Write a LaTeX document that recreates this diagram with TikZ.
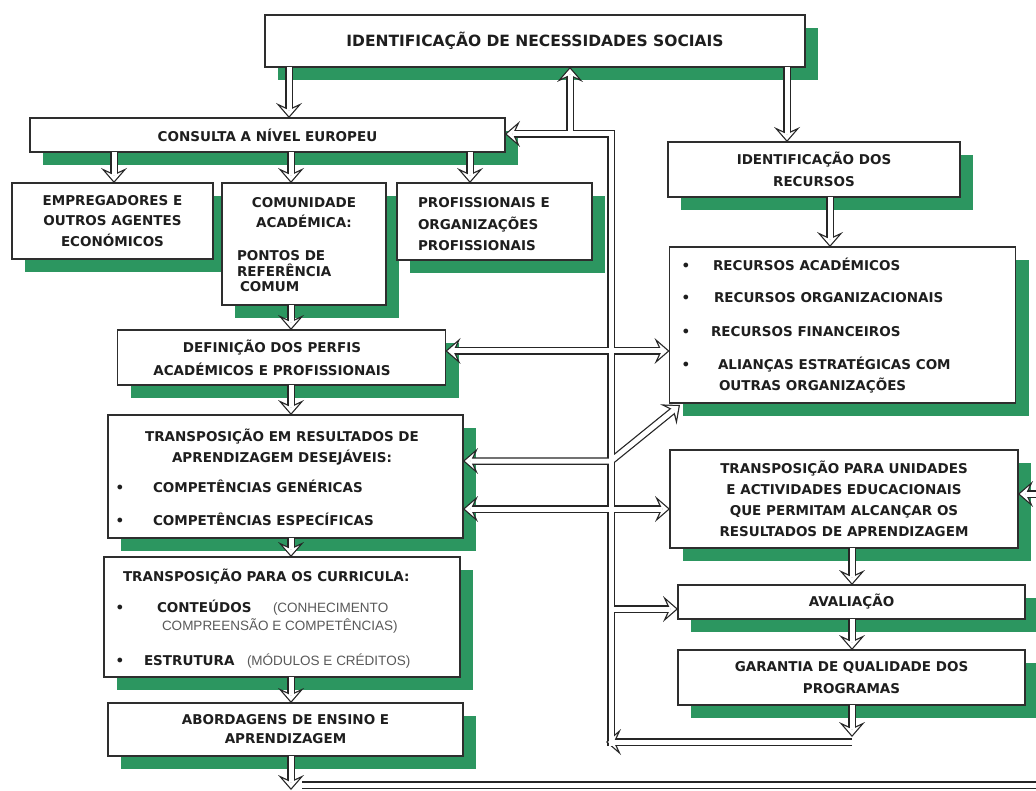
\documentclass[tikz,border=0pt]{standalone}
\usepackage{fontspec}
\setmainfont{DejaVu Sans}
\newfontfamily\thinfont{Liberation Sans}
\usetikzlibrary{arrows.meta,shadows}
\definecolor{shgreen}{RGB}{44,150,96}
\definecolor{ink}{RGB}{30,30,30}
\newcommand\diagfont{\fontsize{13.5}{21}\selectfont\bfseries}
\newcommand\diagsp[1]{\fontsize{13.5}{#1}\selectfont\bfseries}

% all hollow double-line connectors; drawn twice (outline pass, then white pass)
\newcommand\wiring{%
  \draw[->] (nec.south -| gA) -- (cons.north -| gA);
  \draw[->] (nec.south -| gB) -- (idrec.north -| gB);
  \draw[->] (cons.south -| gC) -- (emp.north -| gC);
  \draw[->] (cons.south -| gD) -- (com.north -| gD);
  \draw[->] (cons.south -| gE) -- (prof.north -| gE);
  \draw[->] (idrec.south -| gF) -- (reclist.north -| gF);
  \draw[->] (com.south -| gD) -- (def.north -| gD);
  \draw[->] (def.south -| gD) -- (tres.north -| gD);
  \draw[->] (tres.south -| gD) -- (curr.north -| gD);
  \draw[->] (curr.south -| gD) -- (abord.north -| gD);
  \draw[->] (abord.south -| gD) -- (gD |- hTip);
  \draw[->] (botStart) -- (botCorner) -- (botCorner |- hRight) -- (tuni.east |- hRight);
  \draw[->] (tuni.south -| gG) -- (aval.north -| gG);
  \draw[->] (aval.south -| gG) -- (gar.north -| gG);
  \draw[->] (gar.south -| gG) -- (gG |- hGarTip);
  \draw[->] (gG |- hBack) -- (gBusL |- hBack);
  \draw[->] (gBus |- hBusEnd) -- (gBus |- hTop) -- (cons.east |- hTop);
  \draw[->] (gUp |- hTop) -- (nec.south -| gUp);
  \draw[<->] (def.east |- hDef) -- (reclist.west |- hDef);
  \draw[<->] (tres.east |- hTres) -- (gBus |- hTres) -- (rtip);
  \draw[<->] (tres.east |- hTuni) -- (tuni.west |- hTuni);
  \draw[->] (gBus |- hAval) -- (aval.west |- hAval);
}

\begin{document}
\begin{tikzpicture}[x=1pt,y=-1pt,
  box/.style={draw=black!82, line width=1.4pt, fill=white, inner sep=0pt, outer sep=0pt,
    font=\diagfont, text=ink, align=center,
    drop shadow={shadow xshift=13pt, shadow yshift=-13pt, fill=shgreen, opacity=1}},
  tx/.style={font=\diagfont, text=ink, inner sep=0pt, outer sep=0pt},
  tx1/.style={tx, text height=9.8pt, text depth=0pt},
  thintx/.style={tx1, font={\thinfont\fontsize{13.5}{17}\selectfont}, text=black!65},
  wout/.style={color=black!85, line width=7.5pt, line join=miter, line cap=butt,
    >={Stealth[length=15pt,width=26pt,inset=6pt,line width=0pt]}},
  win/.style={color=white, line width=5pt, line join=miter, line cap=butt,
    >={Stealth[length=9.5pt,width=16.5pt,inset=3.8pt,sep=1.9pt,line width=0pt]}},
]
\useasboundingbox[fill=white] (0,0) rectangle (1036,791);
\clip (0,0) rectangle (1036,791);

% guide coordinates for the connectors
\coordinate (gA) at (289,0);
\coordinate (gB) at (787,0);
\coordinate (gC) at (114,0);
\coordinate (gD) at (291,0);
\coordinate (gE) at (470,0);
\coordinate (gF) at (830,0);
\coordinate (gG) at (852,0);
\coordinate (gBus) at (611,0);
\coordinate (gBusL) at (606,0);
\coordinate (gUp) at (570,0);
\coordinate (hTop) at (0,134);
\coordinate (hDef) at (0,351);
\coordinate (hTres) at (0,461);
\coordinate (hTuni) at (0,509);
\coordinate (hAval) at (0,609);
\coordinate (hBack) at (0,742);
\coordinate (hGarTip) at (0,737);
\coordinate (hBusEnd) at (0,746);
\coordinate (hTip) at (0,790);
\coordinate (hRight) at (0,494);
\coordinate (botStart) at (302,785);
\coordinate (botCorner) at (1060,785);
\coordinate (rtip) at (680,405);

% boxes
\node[box, minimum width=540pt, minimum height=52pt, font={\fontsize{15.5}{18}\selectfont\bfseries}] (nec) at (535,41) {IDENTIFICAÇÃO DE NECESSIDADES SOCIAIS};
\node[box, minimum width=475pt, minimum height=34pt] (cons) at (267.5,135) {CONSULTA A NÍVEL EUROPEU};
\node[box, minimum width=201pt, minimum height=76pt, font=\diagsp{20.5}] (emp) at (112.5,221) {EMPREGADORES E\\OUTROS AGENTES\\ECONÓMICOS};
\node[box, minimum width=164pt, minimum height=122pt] (com) at (304,244) {};
\node[box, minimum width=195pt, minimum height=77pt] (prof) at (494.5,221.5) {};
\node[box, minimum width=292pt, minimum height=55pt, font=\diagsp{22}] (idrec) at (814,169.5) {IDENTIFICAÇÃO DOS\\RECURSOS};
\node[box, minimum width=346pt, minimum height=156pt] (reclist) at (842.5,325) {};
\node[box, minimum width=328pt, minimum height=55pt] (def) at (281.5,357.5) {};
\node[box, minimum width=355pt, minimum height=123pt] (tres) at (285.5,476.5) {};
\node[box, minimum width=348pt, minimum height=98pt] (tuni) at (844,499) {TRANSPOSIÇÃO PARA UNIDADES\\E ACTIVIDADES EDUCACIONAIS\\QUE PERMITAM ALCANÇAR OS\\RESULTADOS DE APRENDIZAGEM};
\node[box, minimum width=347pt, minimum height=34pt] (aval) at (851.5,602) {AVALIAÇÃO};
\node[box, minimum width=347pt, minimum height=55pt, font=\diagsp{22}] (gar) at (851.5,677.5) {GARANTIA DE QUALIDADE DOS\\PROGRAMAS};
\node[box, minimum width=356pt, minimum height=120pt] (curr) at (282,617) {};
\node[box, minimum width=355pt, minimum height=53pt, font=\diagsp{19}] (abord) at (285.5,729.5) {ABORDAGENS DE ENSINO E\\APRENDIZAGEM};

% texts placed inside the plain boxes
\node[tx, align=center, font=\diagsp{19.5}] (comA) at (304,212.5) {COMUNIDADE\\ACADÉMICA:};
\node[tx, align=left, anchor=west, font=\diagsp{15.5}] (comB) at (237,271.5) {PONTOS DE\\REFERÊNCIA\\\hspace*{3pt}COMUM};
\node[tx, align=left, anchor=west, font=\diagsp{21.5}] (profT) at (418,224.5) {PROFISSIONAIS E\\ORGANIZAÇÕES\\PROFISSIONAIS};

\node[tx1] (rb1) at (686,266) {•};
\node[tx1, anchor=west] (ri1) at (713,266) {RECURSOS ACADÉMICOS};
\node[tx1] (rb2) at (686,298) {•};
\node[tx1, anchor=west] (ri2) at (714,298) {RECURSOS ORGANIZACIONAIS};
\node[tx1] (rb3) at (686,332) {•};
\node[tx1, anchor=west] (ri3) at (711,332) {RECURSOS FINANCEIROS};
\node[tx1] (rb4) at (686,365) {•};
\node[tx, align=left, anchor=west, font=\diagsp{21}] (ri4) at (718,375.5) {ALIANÇAS ESTRATÉGICAS COM\\\hspace*{1pt}OUTRAS ORGANIZAÇÕES};

\node[tx, align=center, font=\diagsp{23}] (defT) at (272,357.5) {DEFINIÇÃO DOS PERFIS\\ACADÉMICOS E PROFISSIONAIS};

\node[tx, align=center, font=\diagsp{21}] (tresT) at (282,447) {TRANSPOSIÇÃO EM RESULTADOS DE\\APRENDIZAGEM DESEJÁVEIS:};
\node[tx1] (tb1) at (120,488) {•};
\node[tx1, anchor=west] (ti1) at (153,488) {COMPETÊNCIAS GENÉRICAS};
\node[tx1] (tb2) at (120,521) {•};
\node[tx1, anchor=west] (ti2) at (153,521) {COMPETÊNCIAS ESPECÍFICAS};

\node[tx1, anchor=west] (cuH) at (123,577) {TRANSPOSIÇÃO PARA OS CURRICULA:};
\node[tx1] (cb1) at (120,608) {•};
\node[tx1, anchor=west] (cu1) at (157,608) {CONTEÚDOS};
\node[thintx, anchor=west] (cu1a) at (273,608) {(CONHECIMENTO};
\node[thintx, anchor=west] (cu1b) at (162,626) {COMPREENSÃO E COMPETÊNCIAS)};
\node[tx1] (cb2) at (120,661) {•};
\node[tx1, anchor=west] (cu2) at (144,661) {ESTRUTURA};
\node[thintx, anchor=west] (cu2a) at (247,661) {(MÓDULOS E CRÉDITOS)};

% connectors: dark outline first, then white interior
\begin{scope}[wout]\wiring\end{scope}
\begin{scope}[win]\wiring\end{scope}
\end{tikzpicture}
\end{document}
